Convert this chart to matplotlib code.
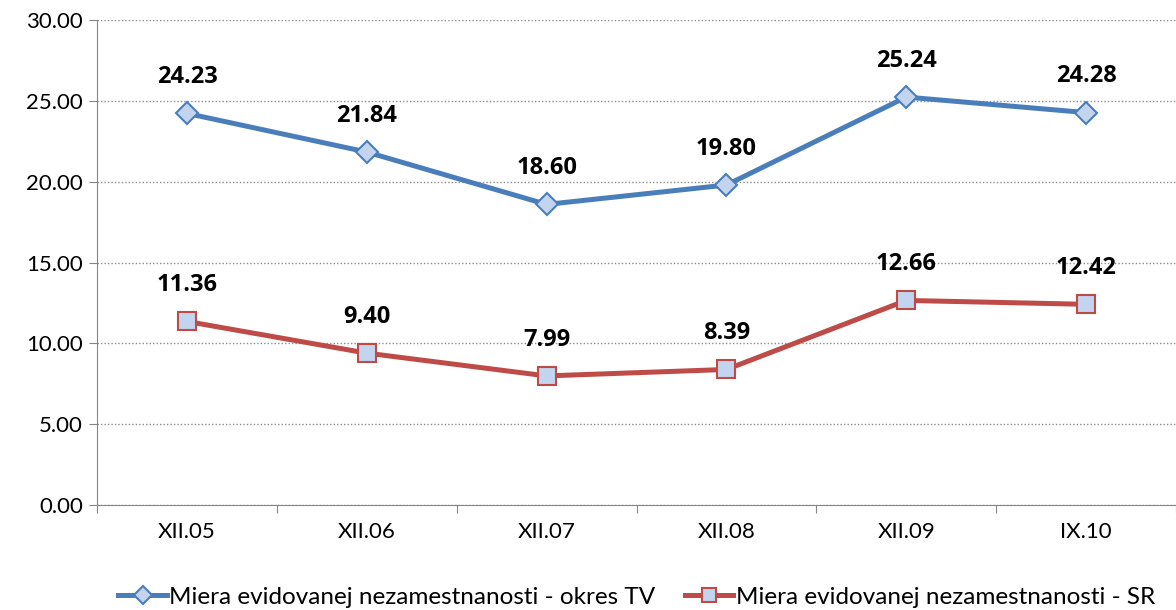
import matplotlib.pyplot as plt
from matplotlib.ticker import FixedLocator, NullFormatter, FormatStrFormatter

plt.rcParams['font.family'] = ['Lato', 'DejaVu Sans']

categories = ['XII.05', 'XII.06', 'XII.07', 'XII.08', 'XII.09', 'IX.10']
okres_tv = [24.23, 21.84, 18.60, 19.80, 25.24, 24.28]
sr = [11.36, 9.40, 7.99, 8.39, 12.66, 12.42]
labels = ['Miera evidovanej nezamestnanosti - okres TV',
          'Miera evidovanej nezamestnanosti - SR']

blue = '#4a7ebb'
red = '#be4b48'
face = '#c3d4ee'

fig = plt.figure(figsize=(11.76, 6.10), dpi=100)
ax = fig.add_axes([0.0825, 0.172, 0.9175, 0.795])

x = list(range(len(categories)))
ax.plot(x, okres_tv, color=blue, lw=3.6, marker='D', ms=11, mfc=face,
        mec=blue, mew=1.5, label=labels[0], zorder=3)
ax.plot(x, sr, color=red, lw=3.6, marker='s', ms=12.5, mfc=face,
        mec=red, mew=1.5, label=labels[1], zorder=3)

# data labels above every point
for series in (okres_tv, sr):
    for xi, v in zip(x, series):
        ax.annotate('%.2f' % v, (xi, v), xytext=(0, 26), textcoords='offset points',
                    ha='center', va='center', fontsize=17, fontweight='bold',
                    family=['Open Sans', 'DejaVu Sans'])

ax.set_xlim(-0.5, len(categories) - 0.5)
ax.set_ylim(0, 30)
ax.set_yticks([0, 5, 10, 15, 20, 25, 30])
ax.yaxis.set_major_formatter(FormatStrFormatter('%.2f'))
ax.xaxis.set_major_locator(FixedLocator([i - 0.5 for i in range(len(categories) + 1)]))
ax.xaxis.set_major_formatter(NullFormatter())
ax.xaxis.set_minor_locator(FixedLocator(x))
ax.set_xticklabels(categories, minor=True)
ax.tick_params(axis='x', which='minor', length=0, pad=12, labelsize=16)
ax.tick_params(axis='x', which='major', length=6, color='#868686')
ax.tick_params(axis='y', length=6, color='#868686', labelsize=16, pad=4)

ax.grid(axis='y', linestyle=(0, (1, 1.5)), color='#8c8c8c', lw=1)
for s in ('top', 'right'):
    ax.spines[s].set_visible(False)
for s in ('left', 'bottom'):
    ax.spines[s].set_color('#868686')

ax.legend(loc='center', bbox_to_anchor=(0.5, -0.19), ncol=2, frameon=False,
          fontsize=17.5, handlelength=2.0, handletextpad=0.1, columnspacing=1.2,
          markerscale=0.85, bbox_transform=ax.transAxes)

fig.savefig('out.png', dpi=100)
